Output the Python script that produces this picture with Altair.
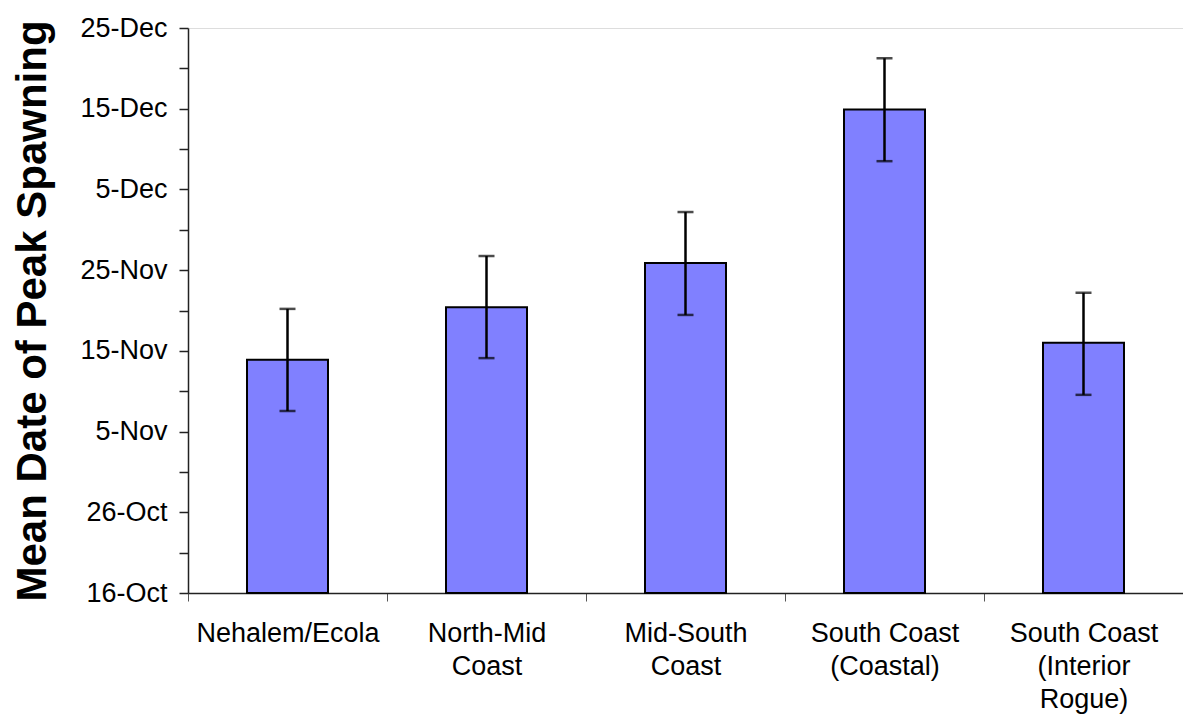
import json
import altair as alt
import pandas as pd

# Categories (region) and their wrapped axis labels
categories = [
    "Nehalem/Ecola",
    "North-Mid Coast",
    "Mid-South Coast",
    "South Coast (Coastal)",
    "South Coast (Interior Rogue)",
]
label_lines = [
    ["Nehalem/Ecola"],
    ["North-Mid", "Coast"],
    ["Mid-South", "Coast"],
    ["South Coast", "(Coastal)"],
    ["South Coast", "(Interior", "Rogue)"],
]

# Values in days after 16-Oct
mean_days = [28.9, 35.4, 40.9, 59.9, 31.0]
err_low = [22.55, 29.1, 34.45, 53.5, 24.55]
err_high = [35.2, 41.75, 47.2, 66.25, 37.2]

# y axis ticks (days after 16-Oct); labelled every 10 days
y_ticks = list(range(0, 71, 5))

df = pd.DataFrame({
    "category": categories,
    "mean": mean_days,
    "lo": err_low,
    "hi": err_high,
})

FONT = "Liberation Sans"

x_label_expr = " : ".join(
    f"datum.label == {json.dumps(c)} ? {json.dumps(lines)}"
    for c, lines in zip(categories, label_lines)
) + " : datum.label"

y_label_expr = (
    "datum.value % 10 == 0 ? "
    "timeFormat(datetime(2000, 9, 16 + datum.value), '%-d-%b') : ''"
)

x_axis = alt.Axis(
    title=None,
    labelAngle=0,
    labelExpr=x_label_expr,
    labelFontSize=27,
    labelFont=FONT,
    labelColor="black",
    labelLineHeight=33,
    labelPadding=19,
    labelLimit=400,
    tickBand="extent",
    tickSize=8,
    tickColor="#555555",
    domainColor="#222222",
    domainWidth=1.5,
    grid=False,
)

y_axis = alt.Axis(
    title="Mean Date of Peak Spawning",
    titleFont=FONT,
    titleFontSize=42,
    titleFontWeight="bold",
    titleColor="black",
    titleAngle=270,
    titleX=-156,
    titleY=282.5,
    titleAlign="center",
    titleBaseline="middle",
    titleLimit=1000,
    values=y_ticks,
    labelExpr=y_label_expr,
    labelFontSize=27,
    labelFont=FONT,
    labelColor="black",
    labelPadding=12,
    labelLimit=400,
    tickSize=9,
    tickColor="#222222",
    tickWidth=1.5,
    domainColor="#222222",
    domainWidth=1.5,
    grid=False,
)

y_scale = alt.Scale(domain=[0, 70], nice=False, zero=False)
x_enc = alt.X("category:N", sort=categories,
              scale=alt.Scale(paddingInner=0, paddingOuter=0), axis=x_axis)

base = alt.Chart(df)

bars = base.mark_bar(size=81, color="#8080FF", stroke="black", strokeWidth=2).encode(
    x=x_enc,
    y=alt.Y("mean:Q", scale=y_scale, axis=y_axis),
)

rule = base.mark_rule(color="black", strokeWidth=2.5).encode(
    x=x_enc,
    y=alt.Y("lo:Q", scale=y_scale, axis=y_axis),
    y2="hi:Q",
)

cap_lo = base.mark_tick(color="black", size=16, thickness=2.5).encode(
    x=x_enc,
    y=alt.Y("lo:Q", scale=y_scale, axis=y_axis),
)
cap_hi = base.mark_tick(color="black", size=16, thickness=2.5).encode(
    x=x_enc,
    y=alt.Y("hi:Q", scale=y_scale, axis=y_axis),
)

chart = alt.layer(bars, rule, cap_lo, cap_hi).properties(
    width=995,
    height=565,
    autosize=alt.AutoSizeParams(type="none"),
    padding={"left": 180, "top": 20, "right": 0, "bottom": 122},
).configure_view(
    stroke="#8c8c8c",
    strokeWidth=2,
).configure(background="white")

chart.save("out.html", embed_options={"renderer": "svg", "actions": False})
